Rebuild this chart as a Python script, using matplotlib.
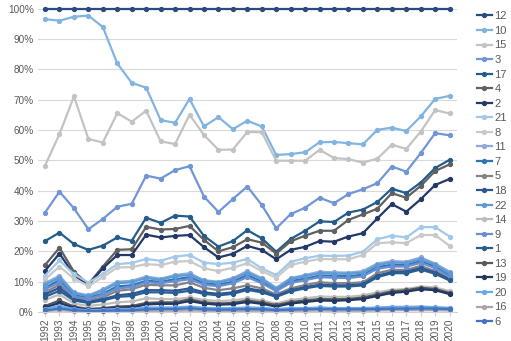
import matplotlib
matplotlib.use("Agg")
import matplotlib.pyplot as plt
from matplotlib.ticker import FuncFormatter

years = list(range(1992, 2021))

# share per series (%), in legend order
s12 = [100] * 29
s10 = [96.6, 96.1, 97.4, 97.8, 94.0, 82.0, 75.6, 74.0, 63.3, 62.4, 70.3, 61.2, 64.3, 60.3, 63.1,
       61.2, 51.8, 52.1, 52.7, 56.0, 56.1, 55.7, 55.3, 60.1, 60.8, 59.7, 64.5, 70.3, 71.3]
s15 = [48.3, 58.7, 71.1, 57.1, 55.9, 65.6, 62.8, 66.4, 56.3, 55.4, 65.1, 58.4, 53.5, 53.6, 59.4,
       59.3, 49.9, 49.9, 49.9, 53.5, 50.8, 50.4, 49.3, 50.6, 55.2, 53.8, 59.5, 66.6, 65.5]
s3 = [32.8, 39.7, 34.2, 27.3, 30.7, 34.7, 35.7, 45.0, 44.0, 46.8, 48.1, 38.1, 33.0, 37.3, 41.4,
      35.3, 27.6, 32.3, 34.4, 37.7, 35.9, 38.9, 40.5, 42.5, 48.0, 46.3, 52.4, 59.0, 58.3]
s17 = [23.4, 26.2, 22.4, 20.5, 21.9, 24.6, 23.5, 31.1, 29.4, 31.8, 31.5, 25.1, 21.6, 23.4, 27.0,
       24.3, 19.9, 24.1, 26.8, 29.9, 29.7, 32.8, 33.8, 36.3, 40.7, 39.2, 42.7, 47.5, 50.2]
s4 = [15.5, 21.2, 13.3, 9.2, 15.0, 20.5, 20.7, 28.1, 27.2, 27.4, 28.4, 23.8, 20.0, 21.4, 24.0,
      22.9, 19.3, 23.3, 25.2, 26.8, 26.8, 30.4, 32.2, 34.1, 39.2, 37.7, 41.6, 46.5, 48.7]
s2 = [13.6, 19.3, 12.2, 8.9, 14.4, 18.8, 18.8, 25.5, 24.6, 25.1, 25.4, 21.4, 18.0, 19.2, 21.8,
      20.5, 17.4, 20.5, 21.5, 23.4, 23.2, 24.9, 26.0, 30.9, 35.6, 33.1, 37.2, 41.9, 43.9]
s21 = [12.0, 17.0, 12.5, 9.7, 12.5, 15.8, 16.2, 17.5, 16.9, 18.3, 18.8, 16.3, 15.8, 16.3, 17.5,
       14.4, 12.2, 16.6, 17.7, 18.6, 18.5, 18.6, 19.9, 24.0, 25.2, 24.6, 28.0, 28.0, 24.9]
s8 = [10.8, 15.0, 11.0, 8.6, 11.5, 14.7, 14.8, 15.8, 15.5, 16.6, 16.8, 14.4, 13.5, 14.6, 16.1,
      13.5, 11.3, 15.5, 16.6, 17.5, 17.4, 17.4, 18.8, 22.7, 23.0, 22.7, 25.4, 25.4, 21.8]
s11 = [9.5, 12.0, 6.5, 5.5, 7.5, 10.0, 10.3, 11.7, 11.0, 12.2, 12.8, 10.5, 10.0, 11.2, 13.5,
       11.2, 8.0, 11.2, 12.2, 13.3, 13.1, 13.0, 13.5, 16.0, 16.8, 16.6, 18.0, 16.0, 13.3]
s7 = [8.0, 10.5, 5.5, 4.8, 6.0, 8.5, 8.8, 10.3, 10.0, 10.8, 11.5, 9.5, 9.0, 10.0, 12.2,
      10.0, 7.2, 10.2, 11.0, 12.0, 12.0, 11.8, 12.3, 14.8, 15.6, 15.5, 16.8, 15.0, 12.0]
s5 = [6.5, 9.0, 4.8, 3.8, 4.8, 7.0, 7.5, 9.0, 8.8, 8.8, 9.8, 8.0, 7.2, 7.8, 8.8,
      7.8, 5.8, 7.8, 8.9, 9.8, 9.5, 9.5, 9.8, 12.8, 13.9, 13.9, 15.2, 13.5, 11.3]
s18 = [5.8, 8.0, 4.3, 3.3, 4.2, 5.5, 6.0, 7.2, 7.2, 7.0, 7.8, 6.5, 6.0, 6.5, 7.8,
       7.0, 5.3, 7.2, 8.2, 9.0, 8.8, 8.8, 9.2, 12.0, 13.2, 13.3, 14.5, 13.0, 10.8]
s22 = [9.0, 11.3, 6.2, 5.2, 7.0, 9.5, 9.8, 11.2, 10.6, 11.8, 12.2, 10.2, 9.7, 10.8, 13.0,
       10.8, 7.7, 10.8, 11.8, 12.8, 12.7, 12.6, 13.0, 15.5, 16.3, 16.2, 17.4, 15.6, 12.8]
s14 = [4.0, 5.8, 2.8, 2.0, 2.5, 3.2, 3.5, 4.5, 4.3, 4.2, 4.8, 4.0, 3.6, 3.8, 4.5,
       3.8, 2.8, 4.0, 4.5, 5.1, 5.0, 5.0, 5.5, 6.5, 7.3, 7.6, 8.4, 8.1, 6.9]
s9 = [7.5, 9.8, 5.0, 4.4, 5.6, 7.8, 8.2, 9.8, 9.5, 10.2, 10.8, 9.0, 8.5, 9.5, 11.5,
      9.5, 6.9, 9.6, 10.5, 11.5, 11.3, 11.2, 11.8, 14.3, 15.0, 15.0, 16.2, 14.5, 11.6]
s1 = [5.0, 7.0, 3.8, 3.0, 3.8, 5.0, 5.3, 6.5, 6.5, 6.3, 7.0, 6.0, 5.5, 6.0, 7.3,
      6.5, 5.0, 6.8, 7.8, 8.6, 8.4, 8.4, 8.8, 11.5, 12.8, 12.8, 14.0, 12.6, 10.4]
s13 = [2.0, 3.8, 1.8, 1.0, 1.3, 1.8, 2.0, 3.0, 3.2, 3.2, 4.2, 3.2, 2.8, 3.0, 3.8,
       3.2, 2.3, 3.3, 3.8, 4.3, 4.2, 4.3, 4.8, 5.8, 6.8, 7.2, 8.0, 7.6, 6.3]
s19 = [1.5, 3.0, 1.4, 0.8, 1.0, 1.4, 1.5, 2.5, 2.7, 2.7, 3.6, 2.8, 2.4, 2.6, 3.3,
       2.7, 1.8, 2.8, 3.3, 3.8, 3.7, 3.9, 4.3, 5.3, 6.3, 6.7, 7.5, 7.2, 5.9]
s20 = [1.0, 2.0, 1.0, 0.6, 0.8, 1.0, 1.0, 1.5, 1.5, 1.5, 1.8, 1.4, 1.2, 1.3, 1.5,
       1.4, 1.0, 1.3, 1.3, 1.5, 1.3, 1.3, 1.3, 1.5, 1.7, 1.7, 1.8, 1.6, 1.4]
s16 = [0.3, 0.6, 0.3, 0.2, 0.2, 0.3, 0.3, 0.4, 0.4, 0.4, 0.5, 0.4, 0.3, 0.3, 0.4,
       0.4, 0.3, 0.4, 0.4, 0.5, 0.4, 0.4, 0.4, 0.5, 0.6, 0.6, 0.6, 0.6, 0.5]
s6 = [0.5, 1.2, 0.6, 0.3, 0.4, 0.5, 0.5, 0.9, 1.0, 1.0, 1.2, 0.9, 0.8, 0.8, 1.0,
      0.9, 0.6, 0.8, 0.9, 1.0, 0.9, 0.9, 0.9, 1.0, 1.1, 1.1, 1.2, 1.1, 1.0]

labels = ["12", "10", "15", "3", "17", "4", "2", "21", "8", "11", "7",
          "5", "18", "22", "14", "9", "1", "13", "19", "20", "16", "6"]
series = [s12, s10, s15, s3, s17, s4, s2, s21, s8, s11, s7,
          s5, s18, s22, s14, s9, s1, s13, s19, s20, s16, s6]
colors = ["#2B4A80", "#82B4E2", "#C3C3C3", "#7096D6", "#245C8C", "#606060", "#22396A",
          "#A2C8EA", "#C9C9C9", "#8EA9DC", "#2E75B6", "#848484", "#2F5597", "#5B9BD5",
          "#BDBDBD", "#6A8FD2", "#285E91", "#5A5A5A", "#203864", "#6CA9E2", "#A8A8A8",
          "#4472C4"]

plt.rcParams["font.family"] = ["Liberation Sans", "DejaVu Sans"]

fig = plt.figure(figsize=(5.11, 3.41), dpi=100)
ax = fig.add_axes([0.074, 0.085, 0.82, 0.889])

handles = []
for lab, vals, col in zip(labels, series, colors):
    (h,) = ax.plot(years, [v / 100 for v in vals], color=col, linewidth=1.6,
                   marker="o", markersize=2.8, label=lab, clip_on=False)
    handles.append(h)

ax.set_xlim(1991.5, 2020.5)
ax.set_ylim(0, 1)
ax.set_yticks([i / 10 for i in range(11)])
ax.yaxis.set_major_formatter(FuncFormatter(lambda v, _: f"{v:.0%}"))
ax.set_xticks(years)
ax.set_xticklabels([str(y) for y in years], rotation=90)
ax.tick_params(axis="both", labelsize=7.2, colors="#595959", length=0, pad=3)
ax.tick_params(axis="x", length=3, color="#D0D0D0", pad=2)
ax.grid(axis="y", color="#D9D9D9", linewidth=0.8)
ax.set_axisbelow(True)
for side in ("top", "right", "left"):
    ax.spines[side].set_visible(False)
ax.spines["bottom"].set_color("#D0D0D0")

fig.legend(handles=handles, loc="upper left", bbox_to_anchor=(0.922, 0.983),
           frameon=False, fontsize=8, handlelength=1.4, handletextpad=0.2,
           labelspacing=0.41, borderpad=0, labelcolor="#595959")

fig.savefig("out.png", dpi=100)
